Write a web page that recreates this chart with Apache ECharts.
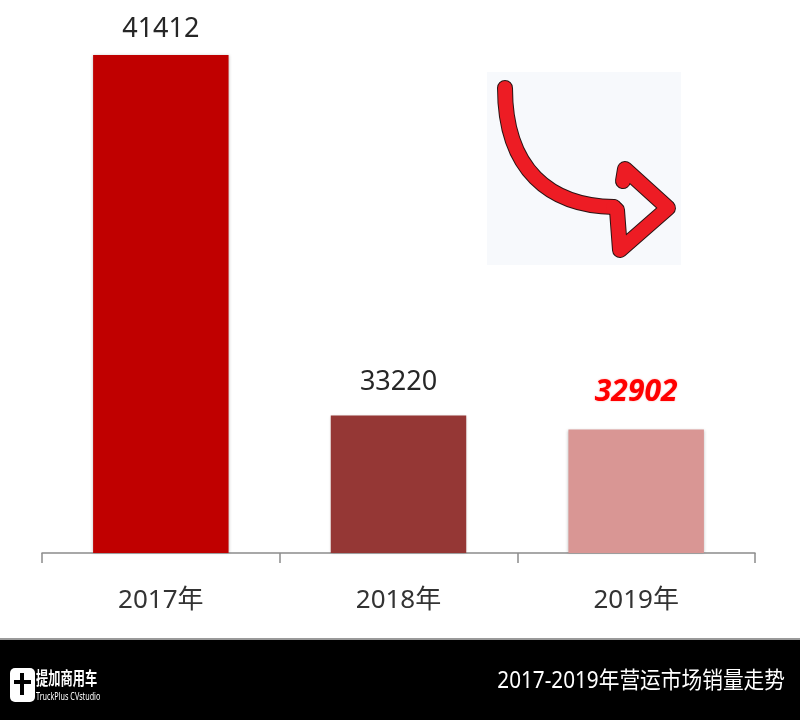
<!DOCTYPE html>
<html><head><meta charset="utf-8">
<script src="https://cdn.jsdelivr.net/npm/echarts@6/dist/echarts.min.js"></script>
<style>html,body{margin:0;padding:0;background:#fff}#c{width:800px;height:720px}</style>
</head><body><div id="c"></div>
<script>
var categories = ['2017年', '2018年', '2019年'];
var sales = [41412, 33220, 32902];
var barColors = ['#C00000', '#953735', '#D99694'];
var footerTitle = '2017-2019年营运市场销量走势';

var FONT = '"Noto Sans", "Noto Sans CJK SC", sans-serif';
var labelGap = [12, 20, 22];
var chart = echarts.init(document.getElementById('c'));
var data = sales.map(function (v, i) {
  var item = { value: v, itemStyle: { color: barColors[i] }, label: { distance: labelGap[i] } };
  if (i === 2) {
    item.label = { distance: labelGap[i], color: '#FF0000', fontStyle: 'italic', fontWeight: 'bold', fontSize: 30,
      textShadowColor: 'rgba(255,0,0,0.35)', textShadowBlur: 2 };
  }
  return item;
});
function arrowParts(stroke, w, z) {
  return [
    { type: 'bezierCurve', shape: { x1: 505, y1: 88, cpx1: 505, cpy1: 170, cpx2: 550, cpy2: 206, x2: 614, y2: 207 },
      style: { fill: null, stroke: stroke, lineWidth: w, lineCap: 'round' }, z: z },
    { type: 'polyline', shape: { points: [[613, 207], [617, 210], [620, 250], [668, 208], [625, 169], [623, 181]] },
      style: { fill: null, stroke: stroke, lineWidth: w, lineJoin: 'round', lineCap: 'round' }, z: z }
  ];
}
var graphics = [
  { type: 'rect', shape: { x: 487, y: 72, width: 194, height: 193 }, style: { fill: '#F7F9FC' }, z: 1 }
].concat(arrowParts('#2a1414', 16, 2)).concat(arrowParts('#ED1C24', 14, 3)).concat([
  { type: 'rect', shape: { x: 0, y: 638, width: 800, height: 2 }, style: { fill: '#9a9a9a' }, z: 5 },
  { type: 'rect', shape: { x: 0, y: 640, width: 800, height: 80 }, style: { fill: '#000000' }, z: 5 },
  { type: 'rect', shape: { x: 10, y: 668, width: 25, height: 34, r: 5 }, style: { fill: '#ffffff' }, z: 6 },
  { type: 'rect', shape: { x: 14, y: 680, width: 17, height: 4 }, style: { fill: '#000000' }, z: 7 },
  { type: 'rect', shape: { x: 20, y: 673, width: 4, height: 22 }, style: { fill: '#000000' }, z: 7 },
  { type: 'text', x: 36, y: 671, scaleX: 0.68, style: { text: '提加商用车', fill: '#ffffff', fontSize: 18, fontWeight: 'bold', fontFamily: FONT }, z: 6 },
  { type: 'text', x: 36, y: 692, scaleX: 0.72, style: { text: 'TruckPlus CVstudio', fill: '#ffffff', fontSize: 10, fontFamily: FONT }, z: 6 },
  { type: 'text', x: 785, y: 681, scaleX: 0.9, style: { text: footerTitle, fill: '#ffffff', fontSize: 23, fontFamily: FONT, align: 'right', verticalAlign: 'middle' }, z: 6 }
]);
chart.setOption({
  animation: false,
  backgroundColor: '#ffffff',
  grid: { left: 42, right: 45, top: 29, bottom: 167 },
  xAxis: {
    type: 'category', data: categories,
    axisLine: { lineStyle: { color: '#8c8c8c', width: 1.5 } },
    axisTick: { show: true, length: 10, lineStyle: { color: '#8c8c8c', width: 1.5 } },
    axisLabel: { color: '#333333', fontSize: 26, margin: 35, fontFamily: FONT }
  },
  yAxis: { type: 'value', min: 30100, max: 42000, show: false, splitLine: { show: false } },
  series: [{
    type: 'bar', data: data, barWidth: '57%', barCategoryGap: '43%',
    itemStyle: { shadowBlur: 3, shadowColor: 'rgba(0,0,0,0.25)' },
    label: { show: true, position: 'top', color: '#262626', fontSize: 27, fontFamily: FONT }
  }],
  graphic: graphics
});
</script></body></html>
